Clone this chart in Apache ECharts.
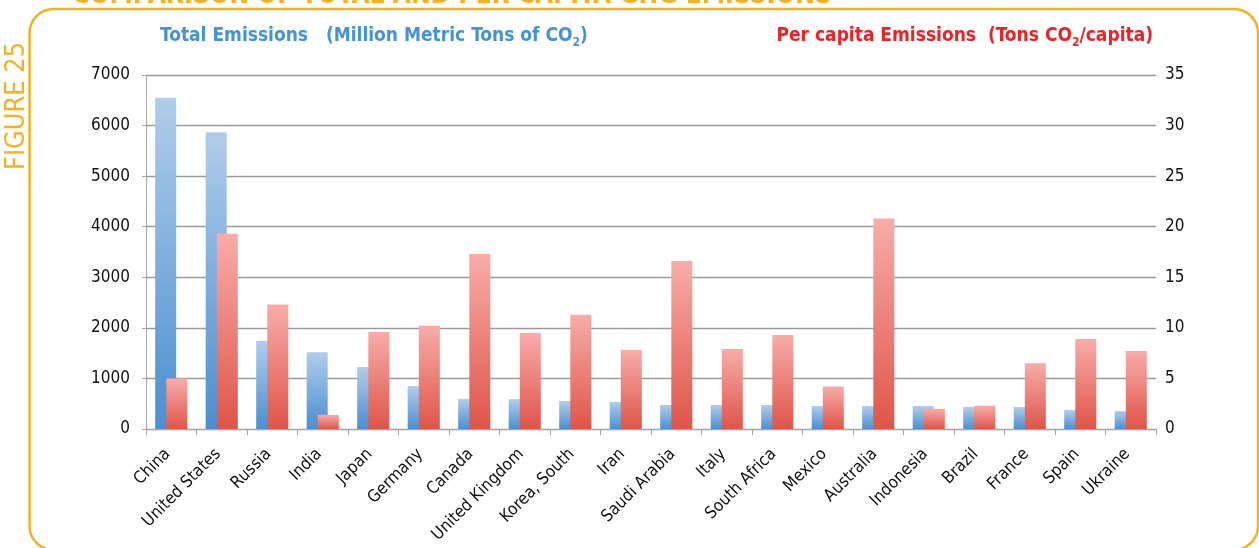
<!DOCTYPE html>
<html>
<head>
<meta charset="utf-8">
<script src="https://cdn.jsdelivr.net/npm/echarts@6/dist/echarts.min.js"></script>
<style>
html,body{margin:0;padding:0;background:#fff;}
#chart{width:1259px;height:548px;}
</style>
</head>
<body>
<div id="chart"></div>
<script>
const categories = ['China','United States','Russia','India','Japan','Germany','Canada','United Kingdom','Korea, South','Iran','Saudi Arabia','Italy','South Africa','Mexico','Australia','Indonesia','Brazil','France','Spain','Ukraine'];
const totalEmissions = [6550, 5870, 1740, 1520, 1225, 850, 595, 590, 555, 535, 475, 475, 475, 455, 455, 455, 435, 435, 375, 355];
const perCapitaEmissions = [5.0, 19.3, 12.3, 1.4, 9.6, 10.2, 17.3, 9.5, 11.3, 7.8, 16.6, 7.9, 9.3, 4.2, 20.8, 2.0, 2.3, 6.5, 8.9, 7.7];
const leftAxisTicks = [0, 1000, 2000, 3000, 4000, 5000, 6000, 7000];
const rightAxisTicks = [0, 5, 10, 15, 20, 25, 30, 35];

const ORANGE = '#f8b01e';

// ---- pick a condensed font that is actually installed ----
const ctx = document.createElement('canvas').getContext('2d');
function measure(font, text) {
  ctx.font = '10px serif';
  ctx.font = font;
  if (ctx.font === '10px serif') return null;
  return ctx.measureText(text).width;
}
const SAMPLE = 'United Kingdom 7000 WMwmil';
function hasFamily(fam) {
  const a = measure('20px ' + fam + ', monospace', SAMPLE), b = measure('20px monospace', SAMPLE);
  const c = measure('20px ' + fam + ', serif', SAMPLE), d = measure('20px serif', SAMPLE);
  return a !== b || c !== d;
}
function stretchWorks(fam) {
  const n = measure('20px ' + fam, SAMPLE), c = measure('condensed 20px ' + fam, SAMPLE);
  return n !== null && c !== null && c < n * 0.95;
}
let FAMILY = "Roboto, sans-serif", STRETCH = '';
if (hasFamily("'Liberation Sans Narrow'")) { FAMILY = "'Liberation Sans Narrow'"; }
else if (hasFamily("'DejaVu Sans Condensed'")) { FAMILY = "'DejaVu Sans Condensed'"; }
else if (stretchWorks("'Open Sans'")) { FAMILY = "'Open Sans'"; STRETCH = 'condensed'; }
else if (stretchWorks("'DejaVu Sans'")) { FAMILY = "'DejaVu Sans'"; STRETCH = 'condensed'; }
else if (stretchWorks("'Noto Sans'")) { FAMILY = "'Noto Sans'"; STRETCH = 'condensed'; }
else if (stretchWorks("Roboto")) { FAMILY = "Roboto"; STRETCH = 'condensed'; }
const W_NORMAL = STRETCH ? 'normal ' + STRETCH : 'normal';
const W_BOLD = STRETCH ? 'bold ' + STRETCH : 'bold';
function fitSize(weight, text, targetWidth, base) {
  const w = measure(weight + ' ' + base + 'px ' + FAMILY, text);
  if (!w) return base;
  return Math.round(base * targetWidth / w * 10) / 10;
}
const YLABEL_SIZE = Math.min(22, Math.max(15, fitSize(W_NORMAL, '7000', 39, 20)));
const XLABEL_SIZE = Math.min(22, Math.max(15, fitSize(W_NORMAL, 'United Kingdom', 122, 20)));
const TITLE_SIZE = Math.min(23, Math.max(15, fitSize(W_BOLD, 'Total Emissions   (Million Metric Tons of CO2)', 433, 21)));
const HEAD_SIZE = Math.min(32, Math.max(20, fitSize(W_BOLD, 'COMPARISON OF TOTAL AND PER CAPITA GHG EMISSIONS', 760, 29)));
const FIG_SIZE = Math.min(31, Math.max(20, fitSize(W_NORMAL, 'FIGURE 25', 128, 28)));
const SUB_SIZE = Math.round(TITLE_SIZE * 0.62);

const chart = echarts.init(document.getElementById('chart'), null, {renderer: 'canvas'});

function richTitle(color) {
  return {
    a: {fontFamily: FAMILY, fontWeight: W_BOLD, fontSize: TITLE_SIZE, color: color, lineHeight: 26},
    s: {fontFamily: FAMILY, fontWeight: W_BOLD, fontSize: SUB_SIZE, color: color, lineHeight: 16, verticalAlign: 'bottom'}
  };
}

const option = {
  animation: false,
  backgroundColor: '#ffffff',
  title: [
    {
      left: 155, top: 18,
      text: '{a|Total Emissions   (Million Metric Tons of CO}{s|2}{a|)}',
      textStyle: {rich: richTitle('#4592d8')}
    },
    {
      right: 101, top: 18,
      text: '{a|Per capita Emissions  (Tons CO}{s|2}{a|/capita)}',
      textStyle: {rich: richTitle('#ec2227')}
    }
  ],
  graphic: [
    {
      type: 'rect', z: -1, silent: true,
      shape: {x: 29.5, y: 9, width: 1228.5, height: 541, r: 24},
      style: {fill: 'none', stroke: ORANGE, lineWidth: 2.5}
    },
    {
      type: 'text', z: 10,
      x: 452, y: -4,
      style: {
        text: 'COMPARISON OF TOTAL AND PER CAPITA GHG EMISSIONS',
        font: W_BOLD + ' ' + HEAD_SIZE + 'px ' + FAMILY, fill: ORANGE,
        align: 'center', verticalAlign: 'middle'
      }
    },
    {
      type: 'text', z: 10,
      x: 17, y: 106, rotation: Math.PI / 2,
      style: {
        text: 'FIGURE 25',
        font: W_NORMAL + ' ' + FIG_SIZE + 'px ' + FAMILY, fill: ORANGE,
        align: 'center', verticalAlign: 'middle'
      }
    }
  ],
  grid: {left: 146, right: 103, top: 75, bottom: 119, containLabel: false, outerBoundsMode: 'none'},
  xAxis: {
    type: 'category',
    data: categories,
    axisLine: {show: true, lineStyle: {color: '#a6a6a6', width: 1}},
    axisTick: {show: true, length: 6, lineStyle: {color: '#a6a6a6'}},
    axisLabel: {interval: 0, rotate: 45, margin: 19, padding: [0, 5, 0, 0], fontFamily: FAMILY, fontWeight: W_NORMAL, fontSize: XLABEL_SIZE, color: '#111'}
  },
  yAxis: [
    {
      type: 'value', min: leftAxisTicks[0], max: leftAxisTicks[leftAxisTicks.length - 1], interval: leftAxisTicks[1] - leftAxisTicks[0],
      axisLine: {show: true, lineStyle: {color: '#a6a6a6'}},
      axisTick: {show: true, length: 4, lineStyle: {color: '#a6a6a6'}},
      splitLine: {show: true, lineStyle: {color: '#9a9a9a', width: 1.3}},
      axisLabel: {margin: 16, formatter: v => String(v), fontFamily: FAMILY, fontWeight: W_NORMAL, fontSize: YLABEL_SIZE, color: '#111'}
    },
    {
      type: 'value', min: rightAxisTicks[0], max: rightAxisTicks[rightAxisTicks.length - 1], interval: rightAxisTicks[1] - rightAxisTicks[0],
      position: 'right',
      axisLine: {show: false},
      axisTick: {show: false},
      splitLine: {show: false},
      axisLabel: {margin: 9, formatter: v => String(v), fontFamily: FAMILY, fontWeight: W_NORMAL, fontSize: YLABEL_SIZE, color: '#111'}
    }
  ],
  series: [
    {
      name: 'Total Emissions', type: 'bar', yAxisIndex: 0,
      data: totalEmissions, barWidth: 21, barGap: '-47%',
      itemStyle: {
        color: new echarts.graphic.LinearGradient(0, 0, 0, 1, [
          {offset: 0, color: '#b1cdeb'},
          {offset: 1, color: '#4b8fd0'}
        ])
      }
    },
    {
      name: 'Per capita Emissions', type: 'bar', yAxisIndex: 1,
      data: perCapitaEmissions, barWidth: 21, barGap: '-47%',
      itemStyle: {
        color: new echarts.graphic.LinearGradient(0, 0, 0, 1, [
          {offset: 0, color: '#f8aca9'},
          {offset: 1, color: '#df5549'}
        ])
      }
    }
  ]
};
chart.setOption(option);
</script>
</body>
</html>
